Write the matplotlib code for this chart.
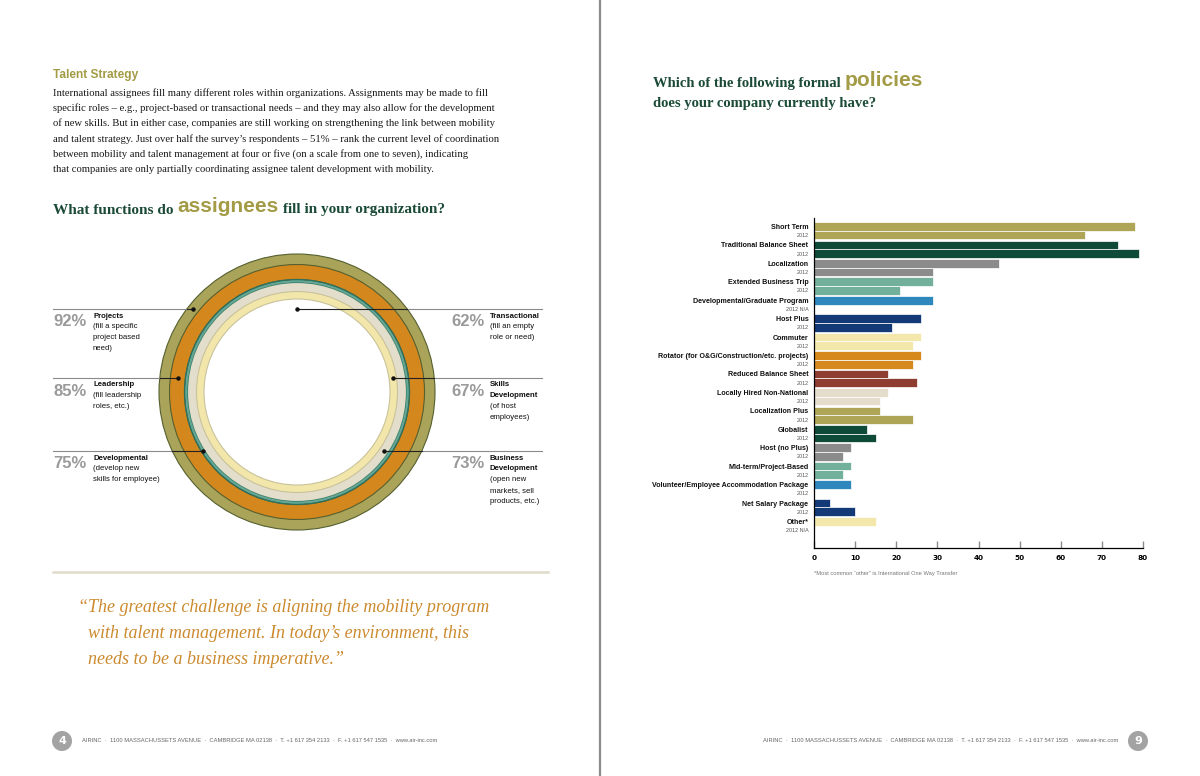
import numpy as np
import matplotlib
matplotlib.use('Agg')
import matplotlib.pyplot as plt
from matplotlib.patches import Circle
from matplotlib import font_manager

# left page: what functions do assignees fill (nested circles)
func_titles = ['Projects', 'Leadership', 'Developmental',
               'Transactional', 'Skills\nDevelopment', 'Business\nDevelopment']
func_notes = ['(fill a specific\nproject based\nneed)', '(fill leadership\nroles, etc.)',
              '(develop new\nskills for employee)', '(fill an empty\nrole or need)',
              '(of host\nemployees)', '(open new\nmarkets, sell\nproducts, etc.)']
func_values = [92, 85, 75, 62, 67, 73]
func_colors = ['#aaa35a', '#d4871d', '#5fa899', '#ffffff', '#f2e6aa', '#e3ddcb']

# right page: formal policies
policies = ['Short Term', 'Traditional Balance Sheet', 'Localization', 'Extended Business Trip',
            'Developmental/Graduate Program', 'Host Plus', 'Commuter',
            'Rotator (for O&G/Construction/etc. projects)', 'Reduced Balance Sheet',
            'Locally Hired Non-National', 'Localization Plus', 'Globalist', 'Host (no Plus)',
            'Mid-term/Project-Based', 'Volunteer/Employee Accommodation Package',
            'Net Salary Package', 'Other*']
current = [78, 74, 45, 29, 29, 26, 26, 26, 18, 18, 16, 13, 9, 9, 9, 4, 15]
prev_2012 = [66, 79, 29, 21, None, 19, 24, 24, 25, 16, 24, 15, 7, 7, None, 10, None]
prev_labels = ['2012', '2012', '2012', '2012', '2012 N/A', '2012', '2012', '2012', '2012',
               '2012', '2012', '2012', '2012', '2012', '2012', '2012', '2012 N/A']
palette = ['#afa556', '#0e4a37', '#8b8b8b', '#73b09b', '#2f88bd',
           '#133a77', '#f3e7ab', '#d68a1d', '#8f3c31', '#e4ddcb']

olive = '#a39b45'
dkgreen = '#1b4a36'
serif = 'Liberation Serif'
installed = {f.name for f in font_manager.fontManager.ttflist}
has_narrow = 'Liberation Sans Narrow' in installed
narrow = ['Liberation Sans Narrow', 'DejaVu Sans'] if has_narrow else ['Liberation Sans']
nscale = 1.0 if has_narrow else 0.91

fig = plt.figure(figsize=(12, 7.76), dpi=100)
bg = fig.add_axes([0, 0, 1, 1])
bg.set_xlim(0, 1200)
bg.set_ylim(776, 0)
bg.axis('off')
renderer = fig.canvas.get_renderer()


def chain(x, y, parts, gap=4):
    # place text pieces one after another on the same line
    for txt, dy, kw in parts:
        t = bg.text(x, y + dy, txt, va='center', **kw)
        x = t.get_window_extent(renderer).x1 + gap


# page divider
bg.plot([600, 600], [0, 776], color='#8c8c8c', lw=1.6)

# ---------------- left page ----------------
bg.text(53, 75, 'Talent Strategy', color=olive, fontsize=8.6, fontweight='bold',
        family='Liberation Sans', va='center')
para = ["International assignees fill many different roles within organizations. Assignments may be made to fill",
        "specific roles \u2013 e.g., project-based or transactional needs \u2013 and they may also allow for the development",
        "of new skills. But in either case, companies are still working on strengthening the link between mobility",
        "and talent strategy. Just over half the survey\u2019s respondents \u2013 51% \u2013 rank the current level of coordination",
        "between mobility and talent management at four or five (on a scale from one to seven), indicating",
        "that companies are only partially coordinating assignee talent development with mobility."]
for k, line in enumerate(para):
    bg.text(53, 93 + k * 15.3, line, fontsize=7.7, family=serif, color='#1a1a1a', va='center')

ser_kw = dict(color=dkgreen, fontsize=11, fontweight='bold', family=serif)
chain(53, 210, [('What functions do', 0, ser_kw),
                ('assignees', -3, dict(color=olive, fontsize=15, fontweight='bold',
                                       family='Liberation Sans')),
                ('fill in your organization?', 0, ser_kw)])

cx, cy, scale = 297, 392, 1.5
order = np.argsort(func_values)[::-1]
for i in order:
    r = func_values[i] * scale
    edge = '#55602f' if func_values[i] >= 75 else '#c9c39c'
    bg.add_patch(Circle((cx, cy), r, facecolor=func_colors[i], edgecolor=edge, lw=0.8, zorder=2))
# teal ring borders
bg.add_patch(Circle((cx, cy), func_values[2] * scale, facecolor='none', edgecolor='#2f6f5c', lw=0.9, zorder=3))
bg.add_patch(Circle((cx, cy), func_values[5] * scale, facecolor='none', edgecolor='#3f8a78', lw=0.8, zorder=3))

sorted_vals = sorted(func_values, reverse=True)
rows = [309, 378, 451, 309, 378, 451]
r_out = max(func_values) * scale
for i in range(6):
    v = func_values[i]
    idx = sorted_vals.index(v)
    inner = sorted_vals[idx + 1] * scale if idx + 1 < len(sorted_vals) else v * scale - 20
    r_dot = (v * scale + inner) / 2
    dy = rows[i] - cy
    dx = np.sqrt(r_dot ** 2 - dy ** 2)
    edge_dx = np.sqrt(r_out ** 2 - dy ** 2)
    if i < 3:
        x_dot, x_edge, x_end = cx - dx, cx - edge_dx, 53
    else:
        x_dot, x_edge, x_end = cx + dx, cx + edge_dx, 542
    bg.plot([x_end, x_edge], [rows[i], rows[i]], color='#8a8a8a', lw=0.8, zorder=4)
    bg.plot([x_edge, x_dot], [rows[i], rows[i]], color='#222222', lw=0.8, zorder=4)
    bg.plot(x_dot, rows[i], 'o', color='#111111', ms=2.2, zorder=5)

    xp = 53 if i < 3 else 451
    xt = 93 if i < 3 else 490
    bg.text(xp, rows[i] + 13, f'{v}%', color='#9a9a9a', fontsize=12, fontweight='bold',
            family='Liberation Sans', va='center')
    ttl = func_titles[i].split('\n')
    lines = ttl + func_notes[i].split('\n')
    for j, ln in enumerate(lines):
        bg.text(xt, rows[i] + 7 + j * 10.8, ln, fontsize=6.1 * nscale, family=narrow, va='center',
                fontweight='bold' if j < len(ttl) else 'normal', color='#111111')

bg.plot([53, 548], [572, 572], color='#e0dccb', lw=1.8)

quote = ["\u201cThe greatest challenge is aligning the mobility program",
         "with talent management. In today\u2019s environment, this",
         "needs to be a business imperative.\u201d"]
for k, q in enumerate(quote):
    bg.text(78 if k == 0 else 88, 607 + k * 26.5, q, color='#cc8a2e', fontsize=13.0,
            family=serif, style='italic', va='center')

footer = ('AIRINC  \u00b7  1100 MASSACHUSSETS AVENUE  \u00b7  CAMBRIDGE MA 02138  \u00b7  '
          'T. +1 617 354 2133  \u00b7  F. +1 617 547 1535  \u00b7  www.air-inc.com')
for px, num, tx, ha in [(62, '4', 82, 'left'), (1138, '9', 1118, 'right')]:
    bg.add_patch(Circle((px, 741), 10, facecolor='#a3a3a3', edgecolor='none'))
    bg.text(px, 741, num, color='white', fontsize=8, fontweight='bold',
            ha='center', va='center', family='DejaVu Sans')
    bg.text(tx, 741, footer, color='#666666', fontsize=4.55 * nscale, family=narrow, ha=ha, va='center')

# ---------------- right page ----------------
ser_kw2 = dict(color=dkgreen, fontsize=10.5, fontweight='bold', family=serif)
chain(653, 84, [('Which of the following formal', 0, ser_kw2),
                ('policies', -4, dict(color=olive, fontsize=15, fontweight='bold',
                                      family='Liberation Sans'))])
bg.text(653, 104, 'does your company currently have?', va='center', **ser_kw2)

ax = fig.add_axes([814 / 1200, 1 - 548 / 776, (1143 - 814) / 1200, 330 / 776])
n = len(policies)
pos = np.arange(n)
h = 0.47
ax.barh(pos + 0.46, current, height=h, color=[palette[k % 10] for k in range(n)],
        edgecolor='white', lw=0.5, zorder=2)
for k in range(n):
    if prev_2012[k] is not None:
        ax.barh(k + 0.46 + h, prev_2012[k], height=h, color=palette[k % 10],
                edgecolor='white', lw=0.5, zorder=2)
ax.set_xlim(0, 80)
ax.set_ylim(17.9, 0)
ticks = list(pos + 0.46) + list(pos + 0.46 + h)
ax.set_yticks(ticks)
ax.set_yticklabels(policies + prev_labels)
for k, lab in enumerate(ax.get_yticklabels()):
    lab.set_family(narrow)
    if k < n:
        lab.set_fontsize(5.6 * nscale)
        lab.set_fontweight('bold')
        lab.set_color('#111111')
    else:
        lab.set_fontsize(4.3 * nscale)
        lab.set_color('#555555')
ax.tick_params(axis='y', length=0, pad=4)
ax.set_xticks(np.arange(0, 81, 10))
ax.tick_params(axis='x', direction='in', length=5, width=1, color='#8a8a8a',
               labelsize=5.2, pad=5)
for lab in ax.get_xticklabels():
    lab.set_fontweight('bold')
for s in ['top', 'right']:
    ax.spines[s].set_visible(False)
ax.spines['left'].set_linewidth(0.9)
ax.spines['bottom'].set_linewidth(0.9)

bg.text(814, 574, '*Most common \u201cother\u201d is International One Way Transfer', color='#777777',
        fontsize=4.6 * nscale, family=narrow, va='center')

fig.savefig('out.png', dpi=100)
